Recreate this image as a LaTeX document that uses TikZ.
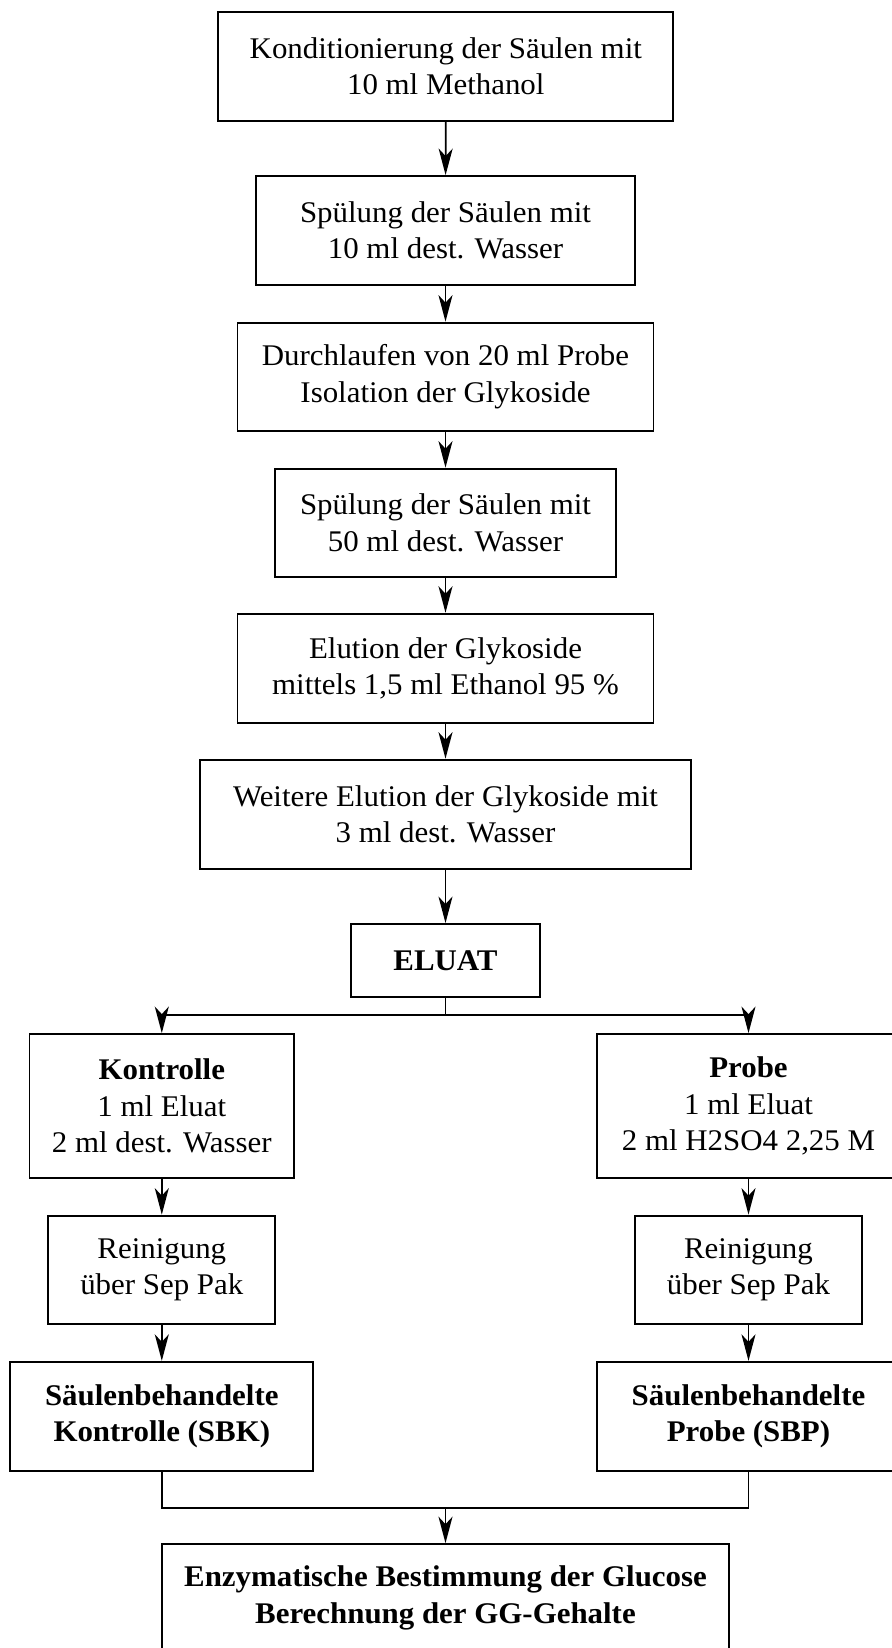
\documentclass[tikz,border=0pt]{standalone}
\usepackage{fontspec}
\setmainfont[FakeStretch=1.03]{Liberation Serif}
\usetikzlibrary{arrows.meta}
\begin{document}
\begin{tikzpicture}[x=0.4pt,y=-0.4pt,
  box/.style={draw,line width=0.75pt,align=center,inner sep=0pt,font=\fontsize{12}{14.6}\selectfont},
  conn/.style={line width=0.7pt},
  arr/.style={conn,-{Stealth[length=10.6pt,width=5.6pt,inset=3pt]}}]
\useasboundingbox (0,0) rectangle (892,1648);
\clip (0,0) rectangle (892,1648);
\node[box,minimum width=182pt,minimum height=43.6pt] (n1) at (445.8,66.2) {Konditionierung der Säulen mit\\10 ml Methanol};
\node[box,minimum width=151.3pt,minimum height=43.5pt] (n2) at (445.5,230.4) {Spülung der Säulen mit\\ 10 ml dest. Wasser};
\node[box,minimum width=166.4pt,minimum height=43.3pt] (n3) at (445.5,376.7) {Durchlaufen von 20 ml Probe\\Isolation der Glykoside};
\node[box,minimum width=136.2pt,minimum height=43.3pt] (n4) at (445.5,522.7) {Spülung der Säulen mit\\50 ml dest. Wasser};
\node[box,minimum width=166.4pt,minimum height=43.7pt] (n5) at (445.5,668.3) {Elution der Glykoside\\mittels 1,5 ml Ethanol 95 \%};
\node[box,minimum width=196.7pt,minimum height=43.9pt] (n6) at (445.5,814.5) {Weitere Elution der Glykoside mit\\3 ml dest. Wasser};
\node[box,minimum width=75.8pt,minimum height=29.2pt] (n7) at (445.5,960.5) {\textbf{ELUAT}};
\node[box,minimum width=105.8pt,minimum height=57.5pt] (k1) at (161.8,1105.9) {\textbf{Kontrolle}\\1 ml Eluat\\2 ml dest. Wasser};
\node[box,minimum width=121.4pt,minimum height=57.5pt] (p1) at (748.5,1105.9) {\textbf{Probe}\\1 ml Eluat\\2 ml H2SO4 2,25 M};
\node[box,minimum width=90.8pt,minimum height=43.3pt] (k2) at (161.8,1269.7) {Reinigung\\über Sep Pak};
\node[box,minimum width=90.8pt,minimum height=43.3pt] (p2) at (748.5,1269.7) {Reinigung\\über Sep Pak};
\node[box,minimum width=121.1pt,minimum height=43.7pt] (k3) at (161.8,1416.4) {\textbf{Säulenbehandelte}\\\textbf{Kontrolle (SBK)}};
\node[box,minimum width=121.3pt,minimum height=43.7pt] (p3) at (748.5,1416.4) {\textbf{Säulenbehandelte}\\\textbf{Probe (SBP)}};
\node[box,minimum width=226.6pt,minimum height=43.1pt] (f) at (445.5,1598) {\textbf{Enzymatische Bestimmung der Glucose}\\\textbf{Berechnung der GG-Gehalte}};
\draw[arr] (n1) -- (n2);
\draw[arr] (n2) -- (n3);
\draw[arr] (n3) -- (n4);
\draw[arr] (n4) -- (n5);
\draw[arr] (n5) -- (n6);
\draw[arr] (n6) -- (n7);
\coordinate (split) at (445.5,1015.3);
\draw[conn] (n7.south) -- (split);
\draw[arr] (split) -| (k1.north);
\draw[arr] (split) -| (p1.north);
\draw[arr] (k1) -- (k2);
\draw[arr] (p1) -- (p2);
\draw[arr] (k2) -- (k3);
\draw[arr] (p2) -- (p3);
\coordinate (merge) at (445.5,1507.7);
\draw[conn] (k3.south) |- (merge);
\draw[conn] (p3.south) |- (merge);
\draw[arr] (merge) -- (f.north);
\end{tikzpicture}
\end{document}
